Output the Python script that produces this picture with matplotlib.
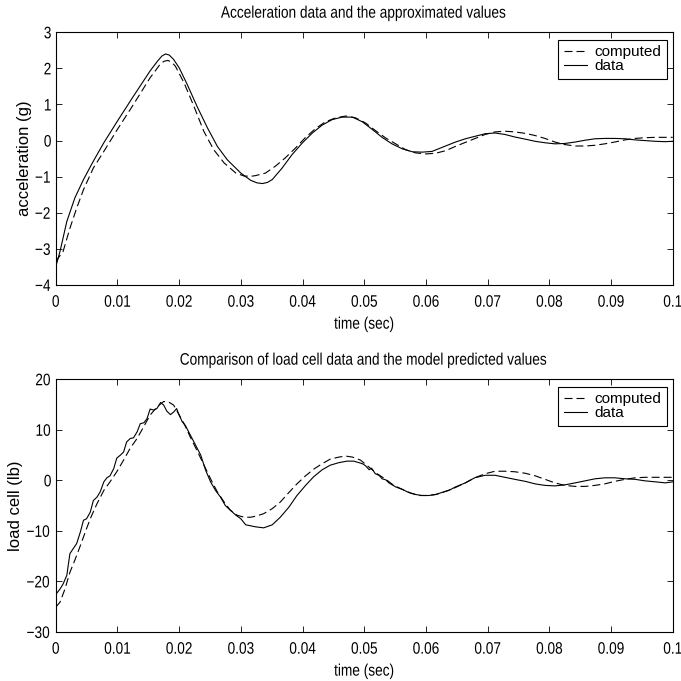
#!/usr/bin/env python3
"""
Acceleration and load cell data vs. model values (two stacked panels)
"""

import matplotlib
matplotlib.use('Agg')
import matplotlib.pyplot as plt
from matplotlib.patheffects import AbstractPathEffect
from matplotlib.transforms import Affine2D

# Top panel: acceleration (g)
acc_data_t = [0, 0.0007, 0.0018, 0.0031, 0.0045, 0.0061, 0.0078, 0.010, 0.0126, 0.0153,
              0.0165, 0.0172, 0.0178, 0.0184, 0.0191, 0.020, 0.0213, 0.0229, 0.0246, 0.0262,
              0.0278, 0.030, 0.0316, 0.0326, 0.0335, 0.0343, 0.0351, 0.0367, 0.0383, 0.040,
              0.0416, 0.0432, 0.0448, 0.0464, 0.0481, 0.0497, 0.0513, 0.0529, 0.0545, 0.0562,
              0.0578, 0.0594, 0.061, 0.0626, 0.0648, 0.0664, 0.068, 0.0696, 0.0712, 0.0728,
              0.0744, 0.0761, 0.0777, 0.0793, 0.0809, 0.0825, 0.0842, 0.0858, 0.0874, 0.089,
              0.0906, 0.0923, 0.0939, 0.0955, 0.0972, 0.0988, 0.1]
acc_data = [-3.5, -3.07, -2.24, -1.59, -1.08, -0.57, -0.06, 0.54, 1.23, 1.93,
            2.20, 2.34, 2.40, 2.37, 2.25, 2.02, 1.56, 0.95, 0.35, -0.16,
            -0.53, -0.90, -1.10, -1.17, -1.19, -1.16, -1.08, -0.76, -0.39, -0.06,
            0.21, 0.43, 0.58, 0.65, 0.65, 0.52, 0.31, 0.09, -0.09, -0.23,
            -0.31, -0.32, -0.30, -0.19, -0.04, 0.05, 0.12, 0.19, 0.21, 0.17,
            0.10, 0.04, -0.02, -0.06, -0.09, -0.08, -0.04, 0.01, 0.05, 0.06,
            0.06, 0.05, 0.02, 0.0, -0.02, -0.03, -0.02]

acc_comp_t = [0, 0.0012, 0.0023, 0.0034, 0.0045, 0.0061, 0.0078, 0.010, 0.0126, 0.0153,
              0.017, 0.0176, 0.0182, 0.0188, 0.0194, 0.0208, 0.0224, 0.024, 0.0256, 0.0273,
              0.0292, 0.0305, 0.0316, 0.0324, 0.034, 0.0356, 0.0372, 0.0389, 0.0405, 0.0421,
              0.0437, 0.0454, 0.047, 0.0486, 0.0502, 0.0518, 0.0535, 0.0551, 0.0567, 0.0583,
              0.060, 0.0616, 0.0632, 0.0648, 0.0664, 0.068, 0.0696, 0.0712, 0.0728, 0.0744,
              0.0761, 0.0777, 0.0793, 0.0809, 0.0825, 0.0842, 0.0858, 0.0874, 0.089, 0.0906,
              0.0923, 0.0939, 0.0955, 0.0972, 0.0988, 0.1]
acc_comp = [-3.35, -3.07, -2.43, -1.87, -1.36, -0.76, -0.30, 0.31, 1.00, 1.74,
            2.13, 2.20, 2.22, 2.17, 2.06, 1.60, 0.95, 0.26, -0.25, -0.62,
            -0.90, -0.98, -0.99, -0.97, -0.90, -0.71, -0.48, -0.20, 0.09, 0.33,
            0.52, 0.63, 0.68, 0.63, 0.49, 0.28, 0.07, -0.09, -0.25, -0.34,
            -0.37, -0.35, -0.28, -0.16, -0.05, 0.06, 0.17, 0.24, 0.26, 0.24,
            0.20, 0.14, 0.06, -0.04, -0.11, -0.15, -0.15, -0.13, -0.09, -0.04,
            0.02, 0.06, 0.08, 0.09, 0.09, 0.09]

# Bottom panel: load cell (lb)
lc_data_t = [0, 0.0007, 0.0012, 0.0018, 0.0023, 0.0029, 0.0034, 0.0040, 0.0045, 0.0050,
             0.0056, 0.0061, 0.0067, 0.0072, 0.0078, 0.0083, 0.0088, 0.0094, 0.0099, 0.0105,
             0.0110, 0.0115, 0.0121, 0.0126, 0.0132, 0.0137, 0.0143, 0.0148, 0.0153, 0.0159,
             0.0164, 0.0170, 0.0175, 0.0180, 0.0186, 0.0191, 0.0196, 0.0199, 0.0205, 0.0210,
             0.0218, 0.0227, 0.0235, 0.0243, 0.0251, 0.0259, 0.0267, 0.0275, 0.0283, 0.0292,
             0.0300, 0.0308, 0.0316, 0.0324, 0.0337, 0.0351, 0.0364, 0.0378, 0.0391, 0.0405,
             0.0418, 0.0432, 0.0445, 0.0459, 0.0472, 0.0483, 0.0497, 0.0502, 0.0508, 0.0512,
             0.0518, 0.0524, 0.0529, 0.0535, 0.0540, 0.0551, 0.0562, 0.0572, 0.0583, 0.0594,
             0.0605, 0.0616, 0.0626, 0.0637, 0.0648, 0.0664, 0.0679, 0.0696, 0.0712, 0.0728,
             0.0744, 0.0761, 0.0777, 0.0793, 0.0809, 0.0825, 0.0842, 0.0858, 0.0874, 0.0890,
             0.0906, 0.0923, 0.0939, 0.0955, 0.0972, 0.0988, 0.1]
lc_data = [-22.6, -21.5, -20.5, -18.8, -14.5, -13.4, -12.5, -10.2, -7.9, -7.6,
           -6.3, -4.0, -3.3, -2.3, -0.3, 0.5, 0.9, 2.3, 4.4, 5.0,
           5.6, 7.6, 8.3, 8.4, 9.6, 11.2, 11.4, 12.2, 14.1, 13.9,
           14.2, 15.4, 14.9, 13.7, 13.0, 13.5, 14.2, 13.2, 11.6, 10.9,
           9.0, 6.9, 5.0, 2.0, -0.3, -2.0, -3.3, -5.0, -5.9, -6.9,
           -7.6, -8.8, -9.0, -9.2, -9.4, -8.8, -7.3, -5.3, -3.0, -1.0,
           0.7, 2.1, 3.0, 3.5, 3.8, 3.8, 3.3, 2.9, 2.1, 2.4,
           1.3, 1.0, 0.3, 0.1, -0.5, -1.3, -1.8, -2.4, -2.8, -3.0,
           -3.0, -2.8, -2.4, -2.0, -1.3, -0.5, 0.5, 1.0, 1.0, 0.6,
           0.2, -0.2, -0.7, -1.0, -1.1, -0.9, -0.5, -0.1, 0.3, 0.5,
           0.5, 0.3, 0.2, -0.1, -0.3, -0.5, -0.3]

lc_comp_t = [0, 0.0007, 0.0015, 0.0023, 0.0031, 0.0040, 0.0048, 0.0056, 0.0067, 0.0078,
             0.0088, 0.0099, 0.0110, 0.0121, 0.0132, 0.0143, 0.0153, 0.0164, 0.0175, 0.0183,
             0.0191, 0.0199, 0.0208, 0.0218, 0.0229, 0.0240, 0.0251, 0.0262, 0.0273, 0.0283,
             0.0294, 0.0305, 0.0316, 0.0324, 0.0337, 0.0351, 0.0364, 0.0378, 0.0391, 0.0405,
             0.0418, 0.0432, 0.0445, 0.0459, 0.0470, 0.0481, 0.0494, 0.0508, 0.0521, 0.0535,
             0.0548, 0.0562, 0.0575, 0.0589, 0.0602, 0.0616, 0.0629, 0.0643, 0.0664, 0.0679,
             0.0696, 0.0712, 0.0728, 0.0744, 0.0761, 0.0777, 0.0793, 0.0809, 0.0825, 0.0842,
             0.0858, 0.0874, 0.0890, 0.0906, 0.0923, 0.0939, 0.0955, 0.0972, 0.0988, 0.1]
lc_comp = [-25.1, -24.1, -21.5, -18.2, -15.8, -12.9, -10.2, -7.6, -4.6, -2.0,
           -0.3, 1.7, 4.0, 6.4, 8.3, 10.7, 12.9, 14.5, 15.6, 15.5,
           14.9, 13.2, 11.2, 8.6, 5.9, 3.1, 0.3, -2.3, -4.3, -5.9,
           -6.9, -7.3, -7.3, -7.1, -6.6, -5.6, -4.3, -2.4, -0.7, 0.9,
           2.2, 3.3, 4.2, 4.6, 4.8, 4.6, 4.0, 2.6, 1.3, 0.2,
           -1.0, -1.8, -2.5, -3.0, -3.0, -2.8, -2.3, -1.7, -0.5, 0.5,
           1.3, 1.8, 1.8, 1.7, 1.4, 0.9, 0.2, -0.5, -1.0, -1.2,
           -1.2, -1.0, -0.7, -0.2, 0.2, 0.5, 0.6, 0.6, 0.6, 0.6]

xticks = [0, 0.01, 0.02, 0.03, 0.04, 0.05, 0.06, 0.07, 0.08, 0.09, 0.1]
xtick_labels = ['0', '0.01', '0.02', '0.03', '0.04', '0.05', '0.06', '0.07', '0.08', '0.09', '0.1']
acc_yticks = [-4, -3, -2, -1, 0, 1, 2, 3]
lc_yticks = [-30, -20, -10, 0, 10, 20]

plt.rcParams['font.family'] = ['Liberation Sans', 'DejaVu Sans']
plt.rcParams['axes.unicode_minus'] = True

DASH = (7.2, 3.6)


class Squeeze(AbstractPathEffect):
    """Draw text glyphs narrower (the original figure was squashed sideways)"""

    def __init__(self, sx=0.82):
        super().__init__()
        self.sx = sx

    def draw_path(self, renderer, gc, tpath, affine, rgbFace=None):
        ext = tpath.get_extents()
        cx = (ext.x0 + ext.x1) / 2
        sq = Affine2D().translate(-cx, 0).scale(self.sx, 1).translate(cx, 0)
        renderer.draw_path(gc, tpath, sq + affine, rgbFace)


def draw_panel(ax, t_comp, comp, t_data, data, yticks, ylabel, title):
    ax.plot(t_comp, comp, color='black', lw=0.8, dashes=DASH, label='computed')
    ax.plot(t_data, data, color='black', lw=0.8, label='data')
    ax.set_xlim(0, 0.1)
    ax.set_ylim(yticks[0], yticks[-1])
    ax.set_xticks(xticks)
    ax.set_xticklabels(xtick_labels)
    ax.set_yticks(yticks)
    ax.tick_params(direction='in', length=4.3, width=0.6, top=True, right=True,
                   labelsize=12)
    ax.tick_params(axis='x', pad=7)
    ax.tick_params(axis='y', pad=2.5)
    for s in ax.spines.values():
        s.set_linewidth(0.8)

    xl = ax.set_xlabel('time (sec)', fontsize=12, labelpad=5)
    ax.set_ylabel(ylabel, fontsize=12, labelpad=0.5)
    tl = ax.set_title(title, fontsize=12, pad=10.5)

    leg = ax.legend(loc='upper right', bbox_to_anchor=(0.990, 0.970), borderaxespad=0,
                    fontsize=11, frameon=True, fancybox=False, framealpha=1,
                    edgecolor='black', handlelength=1.5, handletextpad=0.5,
                    labelspacing=0.0, borderpad=0.35)
    leg.get_frame().set_linewidth(0.8)

    for txt in ax.get_xticklabels() + ax.get_yticklabels() + [xl, tl]:
        txt.set_path_effects([Squeeze()])


fig = plt.figure(figsize=(6.81, 6.81), dpi=100)
ax1 = fig.add_axes([0.0818, 0.5815, 0.906, 0.3711])
ax2 = fig.add_axes([0.0818, 0.0720, 0.906, 0.3711])

draw_panel(ax1, acc_comp_t, acc_comp, acc_data_t, acc_data, acc_yticks,
           'acceleration (g)', 'Acceleration data and the approximated values')
draw_panel(ax2, lc_comp_t, lc_comp, lc_data_t, lc_data, lc_yticks,
           'load cell (lb)', 'Comparison of load cell data and the model predicted values')

fig.savefig('out.png', dpi=100)
